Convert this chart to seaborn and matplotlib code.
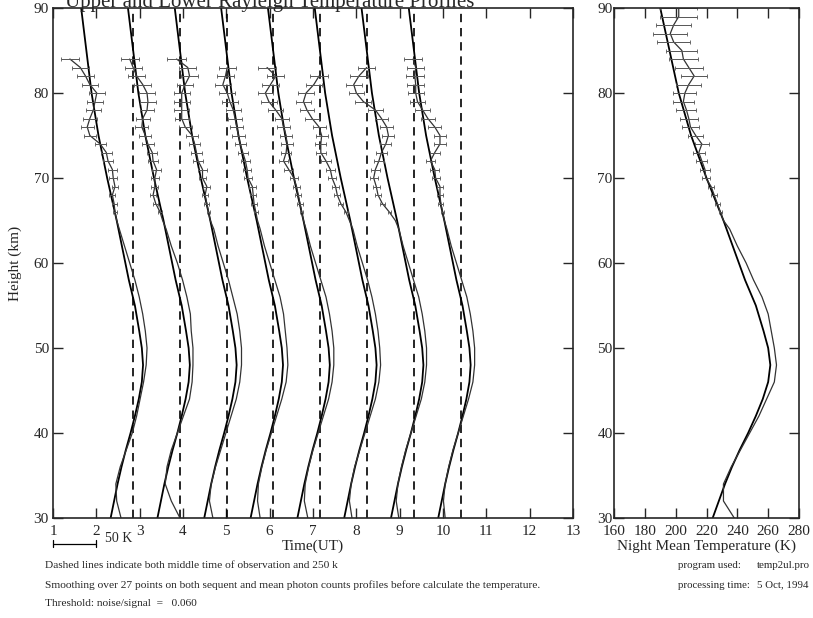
import numpy as np
import pandas as pd
import matplotlib
matplotlib.use('Agg')
import matplotlib.pyplot as plt
import seaborn as sns

sns.set_style('ticks')
plt.rcParams['font.family'] = ['Liberation Serif', 'DejaVu Serif']

nan = np.nan

# middle time of each observation (UT); dashed line there = 250 K
mid_times = [2.85, 3.93, 5.01, 6.08, 7.16, 8.24, 9.32, 10.41]
ref_temp = 250
k_per_hour = 50   # 50 K per hour on the time axis

# model temperature profile (same for every observation)
model_h = [30, 32, 34, 36, 38, 40, 42, 44, 46, 48, 50, 52, 55, 58, 60, 62, 65, 70, 75, 80, 85, 90]
model_t = [224, 228, 232, 236.5, 241.5, 247, 252, 256.5, 260, 261.4, 260, 257, 252, 245, 241, 237, 231, 220, 210, 202, 196, 190]

# measured profiles: lower part every 2 km (30-64), upper part every 1 km (65-85)
low_h = list(range(30, 65, 2))
up_h = list(range(65, 86))
meas_h = low_h + up_h

t1 = [236, 231, 230, 235, 242, 249, 254, 258, 262, 265, 266, 264, 261, 257, 252, 246, 240, 234,
      231, 229, 228, 226, 229, 227, 226, 221, 219, 212, 200, 197, 200, 204, 206, 208, 200, 195, 189, 177, nan]
t2 = [250, 240, 233, 235, 240, 247, 254, 261, 264, 265, 265, 263, 262, 258, 253, 247, 240, 234,
      230, 227, 222, 219, 221, 221, 223, 219, 218, 213, 210, 206, 207, 212, 213, 212, 207, 200, 196, 192, nan]
t3 = [234, 230, 232, 237, 243, 249, 255, 261, 265, 267, 267, 265, 262, 257, 252, 246, 240, 235,
      231, 229, 227, 225, 227, 222, 222, 217, 215, 213, 210, 202, 198, 198, 198, 198, 202, 207, 205, 192, nan]
t4 = [235, 232, 233, 237, 242, 248, 254, 260, 265, 267, 266, 264, 262, 258, 252, 246, 240, 235,
      232, 230, 228, 227, 226, 221, 220, 218, 215, 212, 210, 208, 206, 204, 200, 197, 192, 195, 197, nan, nan]
t5 = [236, 232, 233, 237, 242, 248, 254, 260, 264, 266, 266, 264, 261, 257, 251, 245, 239, 234,
      231, 229, 227, 225, 223, 220, 214, 208, 211, 212, 211, 208, 206, 199, 191, 187, 193, 199, 189, nan, nan]
t6 = [233, 230, 232, 236, 242, 248, 254, 260, 264, 266, 265, 263, 260, 256, 251, 245, 239, 234,
      230, 226, 220, 216, 214, 210, 208, 203, 197, 197, 198, 195, 187, 181, 177, 180, 189, 195, nan, nan, nan]
t7 = [233, 230, 232, 236, 241, 247, 253, 259, 263, 265, 265, 263, 260, 256, 250, 244, 238, 233,
      229, 222, 214, 209, 207, 204, 206, 210, 213, 218, 221, 219, 213, 206, 192, 184, 181, 187, 196, nan, nan]
t8 = [232, 230, 232, 236, 241, 247, 253, 259, 264, 266, 266, 264, 261, 257, 251, 245, 239, 234,
      231, 229, 227, 226, 226, 221, 220, 215, 220, 226, 226, 220, 212, 206, 200, 198, 198, 197, 198, 195, nan]
profiles = [t1, t2, t3, t4, t5, t6, t7, t8]

# error bar half widths (K) for the upper part, 65-85 km
err_up = [0, 2, 3, 3.5, 4, 4.5, 5, 5.5, 6, 6.5, 7, 7.5, 8, 8.5, 9, 9, 9.5, 10, 10, 10.5, 11]

# night mean profile (right panel)
mean_h = low_h + list(range(65, 91))
mean_t = [238, 231, 231, 236, 242, 248, 254, 259, 264, 265.4, 264, 262, 260, 256, 250.5, 245.7, 240, 235,
          231, 229, 227, 225, 223, 219.5, 219, 217, 215, 217, 213, 209.6, 208.5, 207, 205, 206, 208.5, 212,
          208.5, 205, 204, 198.7, 196.5, 198.7, 202, 202]
mean_err = [0, 1, 1.5, 2, 2, 2.5, 3, 3.5, 4, 4.5, 5, 5.5, 6, 6.5, 7, 7.5, 8, 8.5, 9, 9.5, 10, 10.5, 11, 11.5, 12, 12]

time_ticks = list(range(1, 14))
height_ticks = [30, 40, 50, 60, 70, 80, 90]
temp_ticks = [160, 180, 200, 220, 240, 260, 280]

W, H = 813, 618
fig = plt.figure(figsize=(W / 100, H / 100), dpi=100)
ax = fig.add_axes([53 / W, 1 - 518 / H, 520 / W, 510 / H])
axr = fig.add_axes([614 / W, 1 - 518 / H, 185 / W, 510 / H])

def to_time(t, mid):
    return mid + (np.asarray(t, dtype=float) - ref_temp) / k_per_hour

for mid, prof in zip(mid_times, profiles):
    ax.axvline(mid, color='black', lw=1.2, ls=(0, (5, 3.5)))
    sns.lineplot(x=to_time(model_t, mid), y=model_h, sort=False, estimator=None,
                 color='black', lw=1.3, ax=ax, legend=False)
    df = pd.DataFrame({'h': meas_h, 't': prof}).dropna()
    sns.lineplot(x=to_time(df['t'], mid), y=df['h'], sort=False, estimator=None,
                 color='#333333', lw=0.9, ax=ax, legend=False)
    up = pd.DataFrame({'h': up_h, 't': prof[len(low_h):], 'e': err_up}).dropna()
    up = up[up['h'] >= 66]
    ax.errorbar(to_time(up['t'], mid), up['h'], xerr=up['e'] / k_per_hour, fmt='none',
                ecolor='#555555', elinewidth=0.7, capsize=1.5, capthick=0.6)

ax.set_xlim(1, 13)
ax.set_ylim(30, 90)
ax.set_xticks(time_ticks)
ax.set_yticks(height_ticks)
ax.set_xlabel('Time(UT)', fontsize=11, labelpad=1)
ax.set_ylabel('Height (km)', fontsize=11, labelpad=8)

# right panel: night mean temperature
sns.lineplot(x=model_t, y=model_h, sort=False, estimator=None, color='black', lw=1.3, ax=axr, legend=False)
sns.lineplot(x=mean_t, y=mean_h, sort=False, estimator=None, color='#333333', lw=0.9, ax=axr, legend=False)
n_low = len(low_h)
axr.errorbar(mean_t[n_low + 1:], mean_h[n_low + 1:], xerr=mean_err[1:], fmt='none',
             ecolor='#555555', elinewidth=0.7, capsize=1.5, capthick=0.6)
axr.set_xlim(160, 280)
axr.set_ylim(30, 90)
axr.set_xticks(temp_ticks)
axr.set_yticks(height_ticks)
axr.set_xlabel('Night Mean Temperature (K)', fontsize=11, labelpad=1)

for a in (ax, axr):
    a.tick_params(direction='in', top=True, right=True, length=7, width=1, labelsize=11)
    a.tick_params(axis='x', pad=5)
    a.tick_params(axis='y', pad=3)
    for s in a.spines.values():
        s.set_linewidth(1.2)
axr.tick_params(axis='y', pad=1)

# 50 K scale bar under the time axis
tr = ax.get_xaxis_transform()
ax.plot([1, 2], [-0.05, -0.05], color='black', lw=0.9, transform=tr, clip_on=False)
ax.plot([1, 1], [-0.057, -0.043], color='black', lw=0.9, transform=tr, clip_on=False)
ax.plot([2, 2], [-0.057, -0.043], color='black', lw=0.9, transform=tr, clip_on=False)
ax.text(2.2, -0.04, '50 K', transform=tr, fontsize=10, va='center', ha='left')

# title, cut off at the top edge of the scan
fig.text(65 / W, 1 - 7 / H, 'Upper and Lower Rayleigh Temperature Profiles', fontsize=15,
         va='baseline', ha='left')

notes = ['Dashed lines indicate both middle time of observation and 250 k',
         'Smoothing over 27 points on both sequent and mean photon counts profiles before calculate the temperature.',
         'Threshold: noise/signal  =   0.060']
for i, line in enumerate(notes):
    fig.text(45 / W, 1 - (566 + 19 * i) / H, line, fontsize=8.2, va='center')
fig.text(678 / W, 1 - 566 / H, 'program used:', fontsize=7.8, va='center')
fig.text(757 / W, 1 - 566 / H, 'temp2ul.pro', fontsize=7.8, va='center')
fig.text(678 / W, 1 - 585 / H, 'processing time:', fontsize=7.8, va='center')
fig.text(757 / W, 1 - 585 / H, '5 Oct, 1994', fontsize=7.8, va='center')

fig.savefig('out.png', dpi=100)
